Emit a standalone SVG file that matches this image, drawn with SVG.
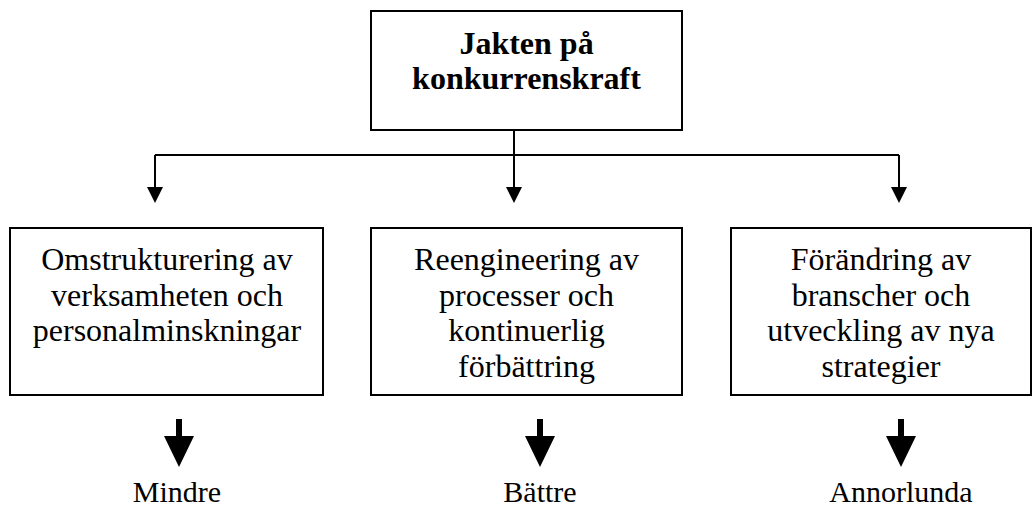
<svg xmlns="http://www.w3.org/2000/svg" width="1032" height="509" viewBox="0 0 1032 509">
<style>
.box{fill:#fff;stroke:#000;stroke-width:2}
.t{font-family:"Liberation Serif","Times New Roman",serif;font-size:32px;fill:#000;text-anchor:middle}
.b{font-weight:bold}
.o{font-size:30px}
.ln{fill:none;stroke:#000;stroke-width:2}
.ah{fill:#000}
</style>
<rect width="1032" height="509" fill="#fff"/>
<g id="top">
<rect class="box" x="371" y="11" width="311" height="119"/>
<text class="t b" x="526.5" y="54">Jakten på</text>
<text class="t b" x="526.5" y="89">konkurrenskraft</text>
</g>
<g id="connectors">
<path class="ln" d="M514 130 V188 M155 155 H899 M155 155 V188 M899 155 V188"/>
<path class="ah" d="M147 187 H163 L155 203 Z M506 187 H522 L514 203 Z M891 187 H907 L899 203 Z"/>
<path class="ah" d="M176 419 H182 V436 H194 L179 467 L164 436 H176 Z"/>
<path class="ah" d="M537 419 H543 V436 H555 L540 467 L525 436 H537 Z"/>
<path class="ah" d="M898 419 H904 V436 H916 L901 467 L886 436 H898 Z"/>
</g>
<g id="box1">
<rect class="box" x="10" y="228" width="313" height="167"/>
<text class="t" x="167" y="270">Omstrukturering av</text>
<text class="t" x="167" y="305.5">verksamheten och</text>
<text class="t" x="167" y="341">personalminskningar</text>
</g>
<g id="box2">
<rect class="box" x="371" y="228" width="311" height="167"/>
<text class="t" x="526.5" y="270">Reengineering av</text>
<text class="t" x="526.5" y="305.5">processer och</text>
<text class="t" x="526.5" y="341">kontinuerlig</text>
<text class="t" x="526.5" y="376.5">förbättring</text>
</g>
<g id="box3">
<rect class="box" x="731" y="228" width="300" height="167"/>
<text class="t" x="881" y="270">Förändring av</text>
<text class="t" x="881" y="305.5">branscher och</text>
<text class="t" x="881" y="341">utveckling av nya</text>
<text class="t" x="881" y="376.5">strategier</text>
</g>
<g id="out1"><text class="t o" x="177" y="502">Mindre</text></g>
<g id="out2"><text class="t o" x="540" y="502">Bättre</text></g>
<g id="out3"><text class="t o" x="901" y="502">Annorlunda</text></g>
</svg>
